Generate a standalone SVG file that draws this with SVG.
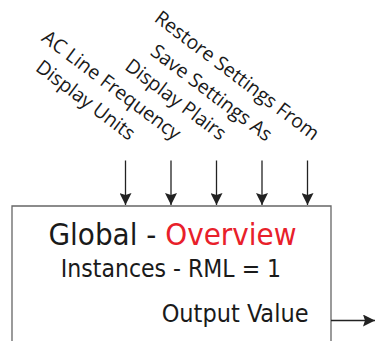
<svg xmlns="http://www.w3.org/2000/svg" width="375" height="341" viewBox="0 0 375 341">
<style>
.lbl{font-family:"Open Sans","DejaVu Sans",sans-serif;font-size:19.5px;fill:#1a1a1a}
.main{font-family:"DejaVu Sans",sans-serif;font-stretch:condensed;fill:#1a1a1a}
.wire{stroke:#222;stroke-width:1.3;fill:none}
</style>
<defs>
<marker id="ah" markerWidth="12" markerHeight="12" viewBox="0 0 12 12" refX="12" refY="6" orient="auto" markerUnits="userSpaceOnUse">
<path d="M0,0 L12,6 L0,12 L2,6 Z" fill="#222"/>
</marker>
</defs>
<g id="block">
<path d="M12,341 V206 H331 V341" fill="#fff" stroke="#666" stroke-width="1.3"/>
<text class="main" x="172.5" y="245" font-size="31" text-anchor="middle">Global - <tspan fill="#e8202a">Overview</tspan></text>
<text class="main" x="171" y="277" font-size="24.5" text-anchor="middle">Instances - RML = 1</text>
<text class="main" x="308.5" y="322" font-size="25" text-anchor="end">Output Value</text>
</g>
<g id="labels">
<text class="lbl" text-anchor="end" transform="translate(129,141) rotate(37)">Display Units</text>
<text class="lbl" text-anchor="end" transform="translate(174.5,141) rotate(37)">AC Line Frequency</text>
<text class="lbl" text-anchor="end" transform="translate(220,141) rotate(37)">Display Plairs</text>
<text class="lbl" text-anchor="end" transform="translate(266,142) rotate(37)">Save Settings As</text>
<text class="lbl" text-anchor="end" transform="translate(313,141) rotate(37)">Restore Settings From</text>
</g>
<g id="connectors">
<line class="wire" x1="125.5" y1="160.5" x2="125.5" y2="205" marker-end="url(#ah)"/>
<line class="wire" x1="171" y1="160.5" x2="171" y2="205" marker-end="url(#ah)"/>
<line class="wire" x1="216.5" y1="160.5" x2="216.5" y2="205" marker-end="url(#ah)"/>
<line class="wire" x1="262" y1="160.5" x2="262" y2="205" marker-end="url(#ah)"/>
<line class="wire" x1="307.5" y1="160.5" x2="307.5" y2="205" marker-end="url(#ah)"/>
<line class="wire" x1="331" y1="320.5" x2="375" y2="320.5" marker-end="url(#ah)"/>
</g>
</svg>
